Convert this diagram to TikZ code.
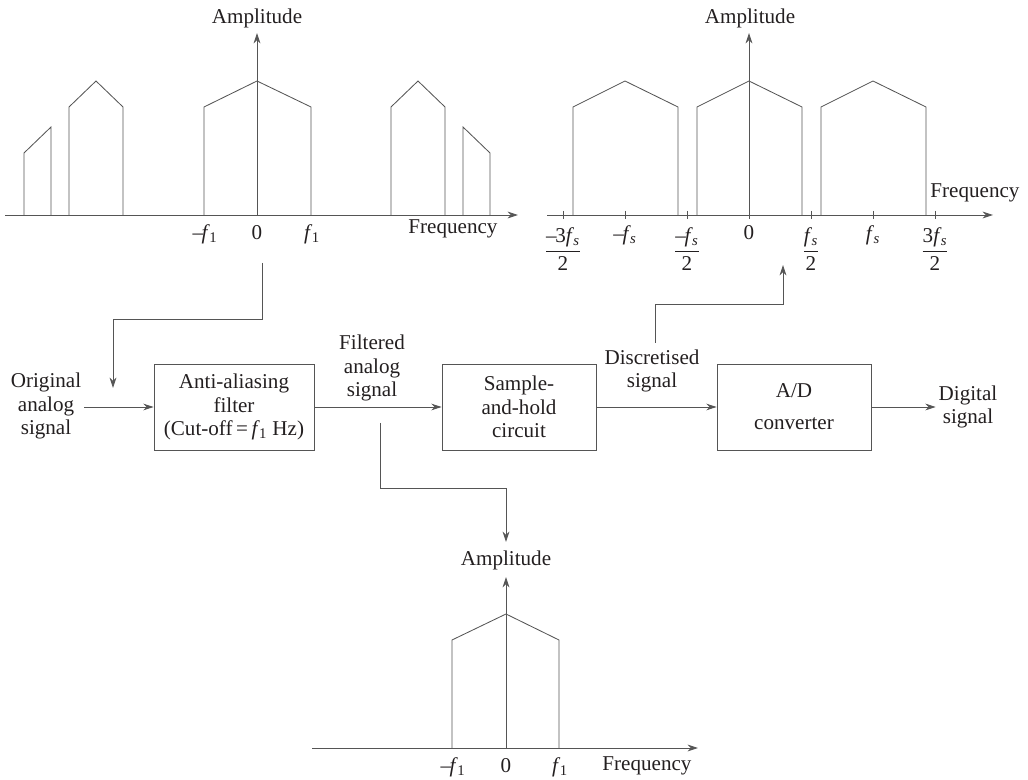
\documentclass[tikz,border=0pt]{standalone}
\usepackage{fontspec}
\setmainfont{Liberation Serif}
\usetikzlibrary{arrows.meta}
\definecolor{linegray}{HTML}{555555}
\definecolor{inkgray}{HTML}{231F20}
% frequency symbols: italic f with a subscript, minus, fractions
\newcommand{\fsub}[1]{\textit{f}\kern-0.5pt\textsubscript{#1}}
\newcommand{\mf}{\textendash\kern-1pt}
\newcommand{\fr}[2]{$\displaystyle\frac{\mbox{#1}}{\mbox{#2}}$}
% one spectral lobe: left edge, peak, right edge, base line
\newcommand{\slobe}[4]{%
  \draw[spec] (#1,#4) -- (#1,{#4-108}) -- (#2,{#4-134}) -- (#3,{#4-108}) -- (#3,#4);}

\begin{document}
\begin{tikzpicture}[x=0.025cm,y=-0.025cm,
    font=\fontsize{15}{16.7}\selectfont,text=inkgray,
    spec/.style={linegray,line width=0.6pt},
    axis/.style={linegray,line width=0.6pt,-{Stealth[length=2.6mm,width=1.7mm]}},
    link/.style={linegray,line width=0.6pt,-{Stealth[length=2.6mm,width=1.7mm]}},
    block/.style={draw=linegray,line width=0.6pt,align=center,
      minimum height=2.15cm,inner sep=2pt},
    lbl/.style={align=center,inner sep=2pt}]
  \useasboundingbox (0,0) rectangle (1028,780);

  % input spectrum
  \draw[axis] (5,215) -- (518,215);
  \draw[axis] (257,215) -- (257,33);
  \node (amp1) at (257,18) {Amplitude};
  \draw[spec] (24,215) -- (24,153) -- (51,127) -- (51,215);
  \slobe{69}{96}{123}{215}
  \slobe{204}{257}{311}{215}
  \slobe{391}{418}{445}{215}
  \draw[spec] (463,215) -- (463,127) -- (490,153) -- (490,215);
  \node at (205,234) {\mf\fsub{1}};
  \node at (257,233) {0};
  \node at (312,234) {\fsub{1}};
  \node at (453,229) {Frequency};

  % sampled spectrum
  \draw[axis] (547,215) -- (993,215);
  \draw[axis] (749,215) -- (749,33);
  \node (amp2) at (750,18) {Amplitude};
  \foreach \x in {563,625,...,935}{\draw[spec] (\x,211) -- (\x,219);}
  \slobe{573}{625}{678}{215}
  \slobe{697}{749}{802}{215}
  \slobe{821}{873}{926}{215}
  \node at (563,249) {\fr{\mf3\fsub{\textit{s}}}{2}};
  \node at (625,235) {\mf\fsub{\textit{s}}};
  \node at (687,249) {\fr{\mf\fsub{\textit{s}}}{2}};
  \node at (749,233) {0};
  \node at (811,249) {\fr{\fsub{\textit{s}}}{2}};
  \node at (873,235) {\fsub{\textit{s}}};
  \node at (935,249) {\fr{3\fsub{\textit{s}}}{2}};
  \node at (975,193) {Frequency};

  % filtered spectrum
  \draw[axis] (312,748) -- (698,748);
  \draw[axis] (506,748) -- (506,577);
  \node (amp3) at (506,560) {Amplitude};
  \slobe{452}{506}{559}{748}
  \node at (453,767) {\mf\fsub{1}};
  \node at (506,766) {0};
  \node at (560,767) {\fsub{1}};
  \node at (647,766) {Frequency};

  % processing chain
  \node[lbl] (orig) at (46,406) {Original\\analog\\signal};
  \node[block,minimum width=4cm] (aa) at (234,407)
    {Anti-aliasing\\filter\\(Cut-off\,=\,\fsub{1} Hz)};
  \node[lbl] (filt) at (372,368) {Filtered\\analog\\signal};
  \node[block,minimum width=3.85cm] (sh) at (519,407) {Sample-\\and-hold\\circuit};
  \node[lbl] (disc) at (652,371) {Discretised\\signal};
  \node[block,minimum width=3.85cm] (ad) at (794,407) {A/D\\[6pt]converter};
  \node[lbl] (dig) at (968,407) {Digital\\signal};

  \draw[link] (orig.east |- aa.west) -- (aa.west);
  \draw[link] (aa.east) -- (sh.west);
  \draw[link] (sh.east) -- (ad.west);
  \draw[link] (ad.east) -- (dig.west |- ad.east);

  % taps to the spectra
  \coordinate (tapin) at (262,263);
  \coordinate (tipin) at (113,388);
  \draw[link] (tapin) |- (113,319) -- (tipin);
  \coordinate (tapfilt) at (380,423);
  \coordinate (tipfilt) at (506,542);
  \draw[link] (tapfilt) |- (506,488) -- (tipfilt);
  \coordinate (tapdisc) at (655,343);
  \coordinate (tipdisc) at (783,265);
  \draw[link] (tapdisc) |- (783,304) -- (tipdisc);
\end{tikzpicture}
\end{document}
